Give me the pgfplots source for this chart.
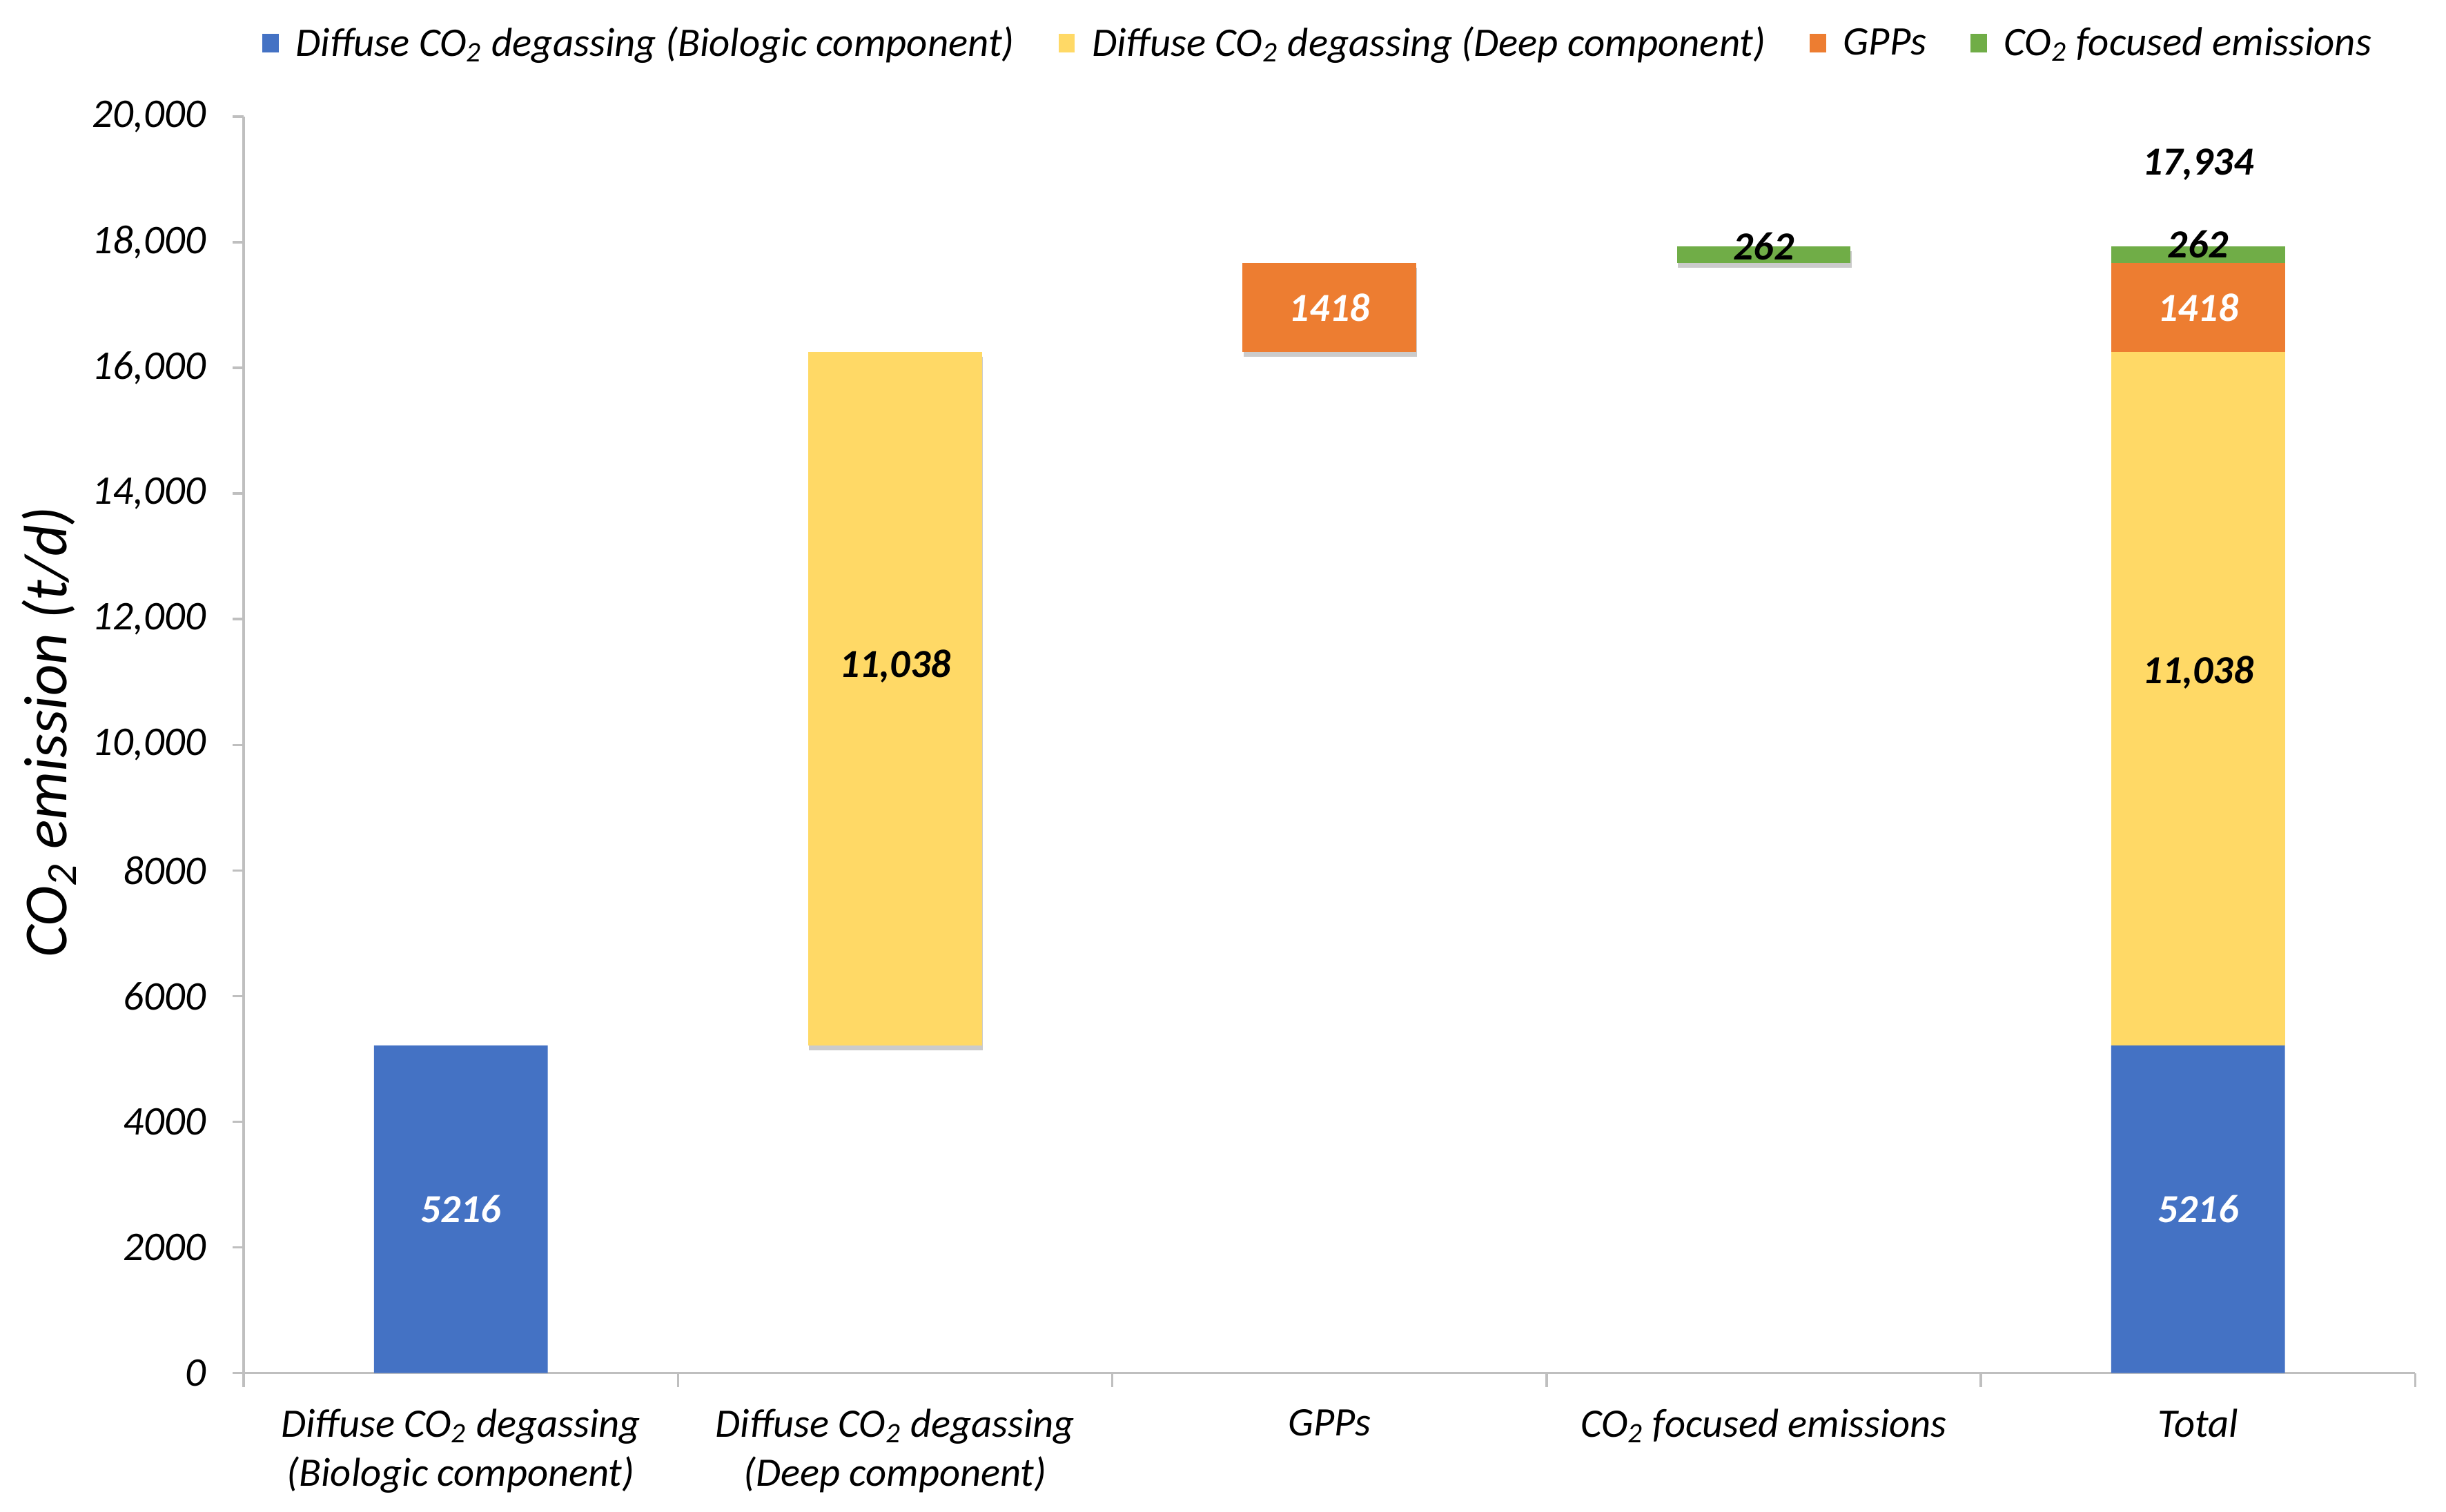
\documentclass[border=0pt]{standalone}
\usepackage{fontspec}
\setmainfont{Carlito}
\usepackage{pgfplots}
\pgfplotsset{compat=1.18}
\usetikzlibrary{shadows}
\definecolor{cblue}{HTML}{4472C4}
\definecolor{cyellow}{HTML}{FFD966}
\definecolor{corange}{HTML}{ED7D31}
\definecolor{cgreen}{HTML}{70AD47}
\definecolor{axgray}{HTML}{BFBFBF}
\newcommand{\tsub}[1]{\textsubscript{#1}}
\newcommand{\tickfont}{\fontsize{13}{15.5}\selectfont\itshape}
\newcommand{\catfont}{\fontsize{12.9}{15.5}\selectfont\itshape}
\newcommand{\legfont}{\fontsize{12.95}{15}\selectfont\itshape}
\newcommand{\lblfont}{\fontsize{12.7}{15}\selectfont\bfseries\itshape}
\begin{document}
\begin{tikzpicture}
\pgfplotsset{
  common/.style={
    width=692.5pt, height=400.7pt, scale only axis,
    at={(0,0)}, anchor=south west,
    xmin=-0.5, xmax=4.5, ymin=0, ymax=20000,
  },
  shad/.style={drop shadow={shadow xshift=0.3pt, shadow yshift=-1.6pt, opacity=0.27, fill=black!75}},
}
\begin{axis}[common,
  ybar stacked, bar width=0.4,
  axis x line*=bottom, axis y line*=left,
  axis line style={draw=axgray, line width=0.8pt, -},
  tick align=outside,
  major tick length=3.5pt,
  scaled y ticks=false,
  ytick={0,2000,...,20000},
  yticklabels={0,2000,4000,6000,8000,{10,000},{12,000},{14,000},{16,000},{18,000},{20,000}},
  ytick style={draw=axgray, line width=0.8pt},
  yticklabel style={font=\tickfont, xshift=-5pt},
  xtick={0,1,2,3,4},
  xtick style={draw=none},
  xticklabels={{Diffuse CO\tsub{2} degassing\\(Biologic component)},{Diffuse CO\tsub{2} degassing\\(Deep component)},GPPs,{CO\tsub{2} focused emissions},Total},
  xticklabel style={font=\catfont, align=center, anchor=north, yshift=-4.5pt},
  extra x ticks={-0.5,0.5,1.5,2.5,3.5,4.5},
  extra x tick labels={},
  extra x tick style={xtick style={draw=axgray, line width=0.8pt}, major tick length=4.4pt},
  every axis y label/.style={at={(axis description cs:0,0.51)}, xshift=-62pt, rotate=90, anchor=center,
    font=\fontsize{19.5}{22}\selectfont\itshape},
  ylabel={CO\tsub{2} emission (t/d)},
  legend columns=4,
  legend style={at={(0.4957,1.0579)}, anchor=center, draw=none, font=\legfont,
    /tikz/every even column/.append style={column sep=12pt},
    /tikz/every odd column/.append style={column sep=3.5pt}},
  legend cell align=left,
  legend image code/.code={\fill[#1] (0pt,-2.8pt) rectangle (5.2pt,3.2pt);},
]
\addplot[fill=none, draw=none, forget plot] coordinates {(0,0) (1,5216) (2,16254) (3,17672) (4,0)};
\addplot[fill=cblue, draw=none] coordinates {(0,5216) (1,0) (2,0) (3,0) (4,5216)};
\addplot[fill=cyellow, draw=none] coordinates {(0,0) (1,0) (2,0) (3,0) (4,11038)};
\addplot[fill=corange, draw=none] coordinates {(0,0) (1,0) (2,0) (3,0) (4,1418)};
\addplot[fill=cgreen, draw=none] coordinates {(0,0) (1,0) (2,0) (3,0) (4,262)};
\addplot[fill=cyellow, draw=none, shad, forget plot] coordinates {(0,0) (1,11038) (2,0) (3,0) (4,0)};
\addplot[fill=corange, draw=none, shad, forget plot] coordinates {(0,0) (1,0) (2,1418) (3,0) (4,0)};
\addplot[fill=cgreen, draw=none, shad, forget plot] coordinates {(0,0) (1,0) (2,0) (3,262) (4,0)};
\legend{Diffuse CO\tsub{2} degassing (Biologic component),Diffuse CO\tsub{2} degassing (Deep component),GPPs,CO\tsub{2} focused emissions}
\end{axis}
\begin{axis}[common, hide axis]
\addplot[draw=none, nodes near coords, point meta=explicit symbolic,
  nodes near coords style={anchor=center, font=\lblfont, text=white}] table[meta=lbl] {
x y lbl
0 2608 5216
2 16963 1418
4 2608 5216
4 16963 1418
};
\addplot[draw=none, nodes near coords, point meta=explicit symbolic,
  nodes near coords style={anchor=center, font=\lblfont, text=black}] table[meta=lbl] {
x y lbl
1 11250 11,038
3 17930 262
4 11150 11,038
4 17970 262
4 19242 17,934
};
\end{axis}
\pgfresetboundingbox
\path[use as bounding box] (-77.7pt,-44.1pt) rectangle (702.3pt,437.9pt);
\end{tikzpicture}
\end{document}
